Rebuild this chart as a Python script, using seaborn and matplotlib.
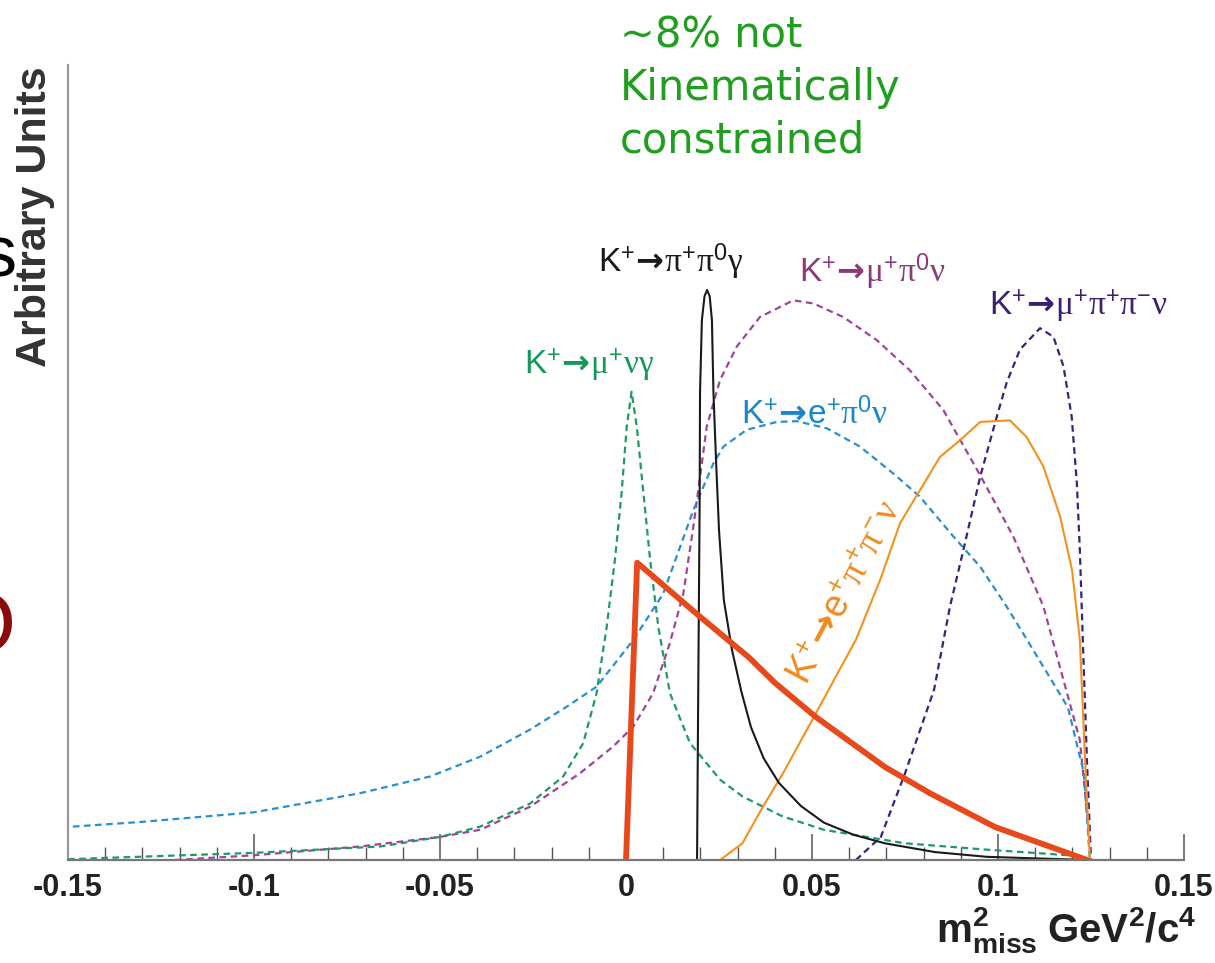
import numpy as np
import pandas as pd
import seaborn as sns
import matplotlib
matplotlib.use("Agg")
import matplotlib.pyplot as plt

# m^2_miss (GeV^2/c^4) and arbitrary-unit heights
sig_x = [0.0, 0.003, 0.0194, 0.033, 0.040, 0.051, 0.0696, 0.0817, 0.0992, 0.124]
sig_y = [0.0, 0.374, 0.308, 0.255, 0.223, 0.180, 0.117, 0.084, 0.0415, 0.0]

pipig_x = [0.0191, 0.0194, 0.0198, 0.0199, 0.0204, 0.0211, 0.0218, 0.0225, 0.0231,
           0.0235, 0.0242, 0.0250, 0.0263, 0.0285, 0.0310, 0.0336, 0.0370, 0.0411,
           0.0470, 0.0532, 0.0610, 0.0696, 0.0830, 0.0970, 0.124]
pipig_y = [0.0, 0.201, 0.453, 0.589, 0.679, 0.709, 0.717, 0.709, 0.679,
           0.589, 0.503, 0.415, 0.327, 0.264, 0.212, 0.167, 0.128, 0.097,
           0.068, 0.047, 0.032, 0.021, 0.010, 0.004, 0.0]

munug_x = [-0.150, -0.100, -0.0661, -0.050, -0.0392, -0.0258, -0.0169, -0.0115, -0.0079,
           -0.0052, -0.0030, -0.0012, 0.0002, 0.0015, 0.0029, 0.0047, 0.0065, 0.0087,
           0.0118, 0.0172, 0.0253, 0.0313, 0.0420, 0.0532, 0.075, 0.097, 0.1188, 0.1247]
munug_y = [0.001, 0.009, 0.017, 0.029, 0.042, 0.071, 0.105, 0.147, 0.210,
           0.293, 0.377, 0.461, 0.545, 0.589, 0.545, 0.461, 0.377, 0.293,
           0.210, 0.147, 0.101, 0.080, 0.055, 0.038, 0.021, 0.013, 0.006, 0.0]

epi0nu_x = [-0.1487, -0.130, -0.100, -0.0715, -0.0527, -0.0392, -0.0258, -0.0159, -0.0079,
            0.0020, 0.0100, 0.0181, 0.0235, 0.0262, 0.0324, 0.0405, 0.0459, 0.0540,
            0.0629, 0.0719, 0.0790, 0.0880, 0.0952, 0.1023, 0.1078, 0.1188, 0.1231, 0.1247]
epi0nu_y = [0.042, 0.048, 0.060, 0.084, 0.105, 0.130, 0.164, 0.193, 0.218,
            0.277, 0.335, 0.440, 0.499, 0.520, 0.541, 0.551, 0.552, 0.543,
            0.520, 0.486, 0.457, 0.407, 0.369, 0.319, 0.277, 0.192, 0.109, 0.0]

mupi0nu_x = [-0.1212, -0.100, -0.0715, -0.050, -0.0392, -0.0258, -0.0124, -0.0034, 0.0020,
             0.0073, 0.0118, 0.0154, 0.0181, 0.0217, 0.0253, 0.0298, 0.0360, 0.0450,
             0.0504, 0.0584, 0.0674, 0.0763, 0.0853, 0.0952, 0.1041, 0.1122, 0.1220,
             0.1242, 0.1250]
mupi0nu_y = [0.0, 0.006, 0.017, 0.029, 0.038, 0.067, 0.109, 0.143, 0.168,
             0.210, 0.273, 0.335, 0.419, 0.545, 0.604, 0.646, 0.683, 0.704,
             0.700, 0.683, 0.654, 0.616, 0.566, 0.484, 0.407, 0.319, 0.151,
             0.047, 0.0]

epipinu_x = [0.0253, 0.0313, 0.0368, 0.0422, 0.0511, 0.0618, 0.0683, 0.0737, 0.0790,
             0.0844, 0.0898, 0.0952, 0.1032, 0.1077, 0.1122, 0.1167, 0.1199, 0.1220,
             0.1234, 0.1247]
epipinu_y = [0.0, 0.021, 0.067, 0.109, 0.185, 0.277, 0.352, 0.424, 0.465,
             0.507, 0.528, 0.551, 0.553, 0.532, 0.495, 0.432, 0.365, 0.277,
             0.126, 0.0]

mupipinu_x = [0.0618, 0.0685, 0.0750, 0.0828, 0.0871, 0.0907, 0.0952, 0.0997, 0.1023,
              0.1059, 0.1113, 0.1149, 0.1176, 0.1198, 0.1212, 0.1220, 0.1228, 0.1239, 0.1250]
mupipinu_y = [0.0, 0.029, 0.109, 0.214, 0.319, 0.390, 0.482, 0.558, 0.600,
              0.642, 0.669, 0.658, 0.621, 0.558, 0.474, 0.390, 0.277, 0.126, 0.0]

tick_vals = [-0.15, -0.1, -0.05, 0, 0.05, 0.1, 0.15]
tick_labels = ["-0.15", "-0.1", "-0.05", "0", "0.05", "0.1", "0.15"]

sns.set_theme(style="white")
plt.rcParams["font.family"] = ["Liberation Sans", "DejaVu Sans"]
plt.rcParams["mathtext.fontset"] = "custom"
plt.rcParams["mathtext.rm"] = "Liberation Serif"
plt.rcParams["mathtext.sf"] = "Liberation Sans"
plt.rcParams["mathtext.it"] = "Liberation Serif:italic"
plt.rcParams["mathtext.bf"] = "Liberation Sans:bold"
plt.rcParams["mathtext.cal"] = "DejaVu Sans:bold"  # used only for the arrow

fig = plt.figure(figsize=(12.15, 9.63), dpi=100)
ax = fig.add_axes([68 / 1215, 103 / 963, 1116 / 1215, 795 / 963])

dash = (0, (3, 2))
curves = [
    (mupipinu_x, mupipinu_y, "#3a2080", dash, 1.6),
    (mupi0nu_x, mupi0nu_y, "#a0449a", dash, 1.6),
    (epi0nu_x, epi0nu_y, "#2a8fcf", dash, 1.6),
    (munug_x, munug_y, "#1f9a63", dash, 1.6),
    (epipinu_x, epipinu_y, "#f2921c", "-", 1.5),
    (pipig_x, pipig_y, "#1a1a1a", "-", 1.5),
    (sig_x, sig_y, "#e8491c", "-", 4.2),
]
for xs, ys, col, ls, lw in curves:
    df = pd.DataFrame({"m2miss": xs, "units": ys})
    sns.lineplot(data=df, x="m2miss", y="units", ax=ax, color=col,
                 linestyle=ls, linewidth=lw, estimator=None, sort=False)

ax.set_xlim(-0.15, 0.15)
ax.set_ylim(0, 1)
ax.set_xlabel("")
ax.set_ylabel("")
ax.set_yticks([])
ax.set_xticks(tick_vals)
ax.set_xticklabels(tick_labels, fontweight="bold", fontsize=22, color="#222222")
ax.set_xticks(np.arange(-0.15, 0.1501, 0.01), minor=True)
ax.tick_params(axis="x", which="major", direction="in", length=19, width=1.1,
               color="#555555", pad=9, bottom=True)
ax.tick_params(axis="x", which="minor", direction="in", length=9.5, width=1.0,
               color="#555555", bottom=True)
for side in ["top", "right"]:
    ax.spines[side].set_visible(False)
ax.spines["left"].set_color("#999999")
ax.spines["left"].set_linewidth(1.6)
ax.spines["bottom"].set_color("#777777")
ax.spines["bottom"].set_linewidth(1.6)


def decay(lepton, parts):
    # sans K and lepton, serif greek letters, sans superscripts
    out = r"$\mathsf{K}^{\mathsf{+}}\!\mathcal{\rightarrow}\!"
    if lepton:
        out += r"\mathsf{%s}^{\mathsf{+}}" % lepton
    for letter, sup in parts:
        out += r"\mathrm{\%s}" % letter
        if sup:
            out += r"^{\mathsf{%s}}" % sup
    return out + "$"


fs = 24
ax.text(-0.0075, 0.752, decay("", [("pi", "+"), ("pi", "0"), ("gamma", "")]),
        color="#1a1a1a", fontsize=fs, va="center")
ax.text(0.0465, 0.740, decay("", [("mu", "+"), ("pi", "0"), ("nu", "")]),
        color="#8a3a7a", fontsize=fs, va="center")
ax.text(0.0975, 0.698, decay("", [("mu", "+"), ("pi", "+"), ("pi", "-"), ("nu", "")]),
        color="#3b1f73", fontsize=fs, va="center")
ax.text(-0.0275, 0.623, decay("", [("mu", "+"), ("nu", ""), ("gamma", "")]),
        color="#139a5a", fontsize=fs, va="center")
ax.text(0.031, 0.560, decay("e", [("pi", "0"), ("nu", "")]),
        color="#1a86cc", fontsize=fs, va="center")
ax.text(0.0589, 0.337, decay("e", [("pi", "+"), ("pi", "-"), ("nu", "")]),
        color="#f08a1e", fontsize=27, rotation=62, ha="center", va="center",
        rotation_mode="anchor")

# axis titles
fig.text(35 / 1215, 1 - 66 / 963, "Arbitrary Units", rotation=90, ha="center", va="top",
         fontsize=31, fontweight="bold", color="#333333")
fig.text(1196 / 1215, 1 - 930 / 963, r"$\mathbf{m^{2}_{miss}\ GeV^{2}/c^{4}}$",
         ha="right", va="center", fontsize=29, color="#222222")

# annotation
fig.text(620 / 1215, 1 - 14 / 963, "~8% not\nKinematically\nconstrained",
         ha="left", va="top", fontsize=30, color="#1f9e1f", linespacing=1.32,
         family=["DejaVu Sans"])

# cut-off slide letters at the left edge
fig.text(16 / 1215, 1 - 258 / 963, "s", ha="right", va="center", fontsize=52, color="black")
fig.text(16 / 1215, 1 - 630 / 963, "O", ha="right", va="center", fontsize=62, color="#8b0a0a")

fig.savefig("out.png", dpi=100)
